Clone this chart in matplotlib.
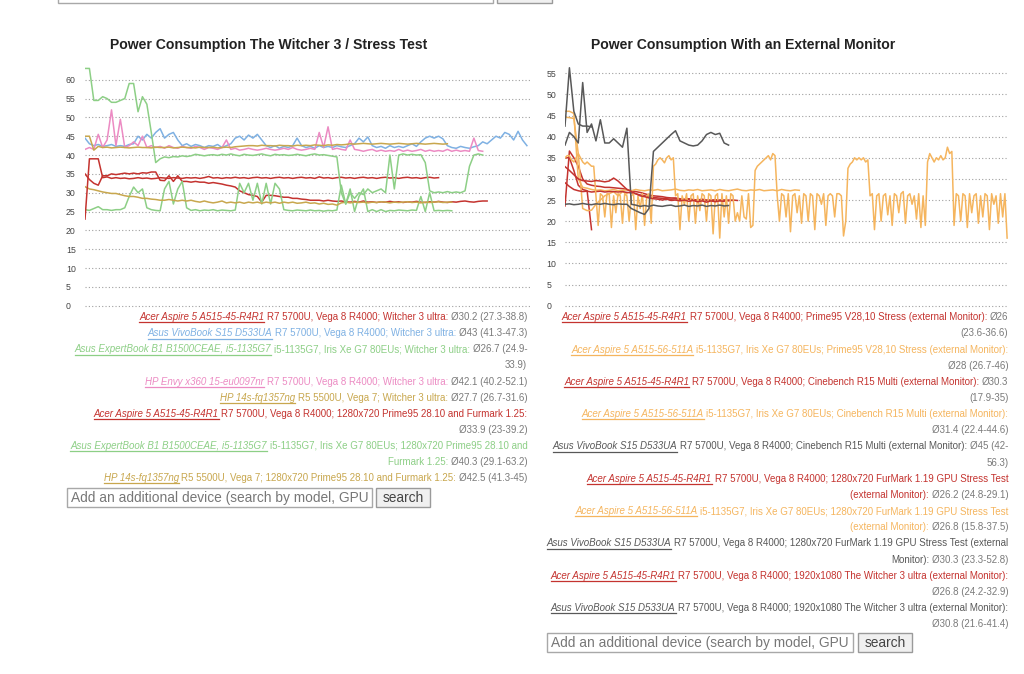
import matplotlib
matplotlib.use('Agg')
import matplotlib.pyplot as plt
from matplotlib.lines import Line2D
from matplotlib.patches import Rectangle

# ---------------- data: left chart (sample index, W) ----------------
left_title = "Power Consumption The Witcher 3 / Stress Test"
right_title = "Power Consumption With an External Monitor"
left_yticks = [0, 5, 10, 15, 20, 25, 30, 35, 40, 45, 50, 55, 60]
right_yticks = [0, 5, 10, 15, 20, 25, 30, 35, 40, 45, 50, 55]

acer_r4r1_witcher = [35, 33.5, 32.5, 32, 34.5, 34.5, 35, 34.8, 35, 35.2, 35, 35.2, 35, 35.3, 35.2, 35.5,
                     35.5, 33.3, 33.2, 34.5, 33, 34.5, 33, 33, 32.8, 33, 32.8, 32.8, 32.5, 32.7, 32.5, 32.3,
                     32, 31.8, 31.5, 30.5, 30, 29.5, 29.3, 29, 27.5, 29.3, 29.3, 29.2, 29, 28.8, 28.8, 28.5,
                     28.5, 28.3, 28.2, 28, 28, 28, 27.8, 28, 27.8, 27.7, 27.8, 27.6, 27.5, 27.7, 27.5, 27.8,
                     27.5, 27.6, 27.4, 27.6, 27.5, 27.7, 27.5, 27.6, 27.4, 27.6, 27.5, 27.7, 27.5, 27.4, 27.6,
                     27.5, 27.7, 27.5, 27.4, 27.6, 27.5, 27.7, 27.8, 27.6, 27.5, 27.7, 27.8, 27.8]
vivobook_witcher = [44.5, 43, 42.5, 42.8, 42.3, 42.5, 42.8, 42.3, 42.5, 42.3, 42.8, 43, 45, 44, 45.5, 44.5,
                    46, 47, 44.5, 45.5, 46, 44, 42.5, 43, 42.3, 42.8, 42.5, 42, 42.5, 42.3, 42.8, 42, 42.5,
                    43, 44.5, 45, 44, 45.3, 44.5, 45.5, 44, 42.5, 42, 42.5, 41.8, 42.3, 42, 42.5, 44.5, 42.5,
                    42, 42.3, 41.8, 42.5, 42, 42.3, 42, 42.5, 42.2, 42, 42.5, 43, 44.5, 43.5, 44.8, 42.5, 42,
                    42.3, 41.8, 42.5, 42, 42.3, 42, 42.5, 43, 42.3, 43.5, 44.5, 45, 44.5, 45, 44.3, 42.5, 42,
                    41.8, 42.3, 42, 41.8, 42.2, 42.5, 43.5, 43, 44, 45, 44.5, 46, 45.5, 44, 46.3, 44, 42.5]
expertbook_witcher = [25.5, 25.3, 25.8, 26.3, 25.5, 25.5, 25.3, 25.5, 25.5, 26, 29, 31.5, 30, 31, 26, 25.5,
                      25.3, 25.2, 31, 33, 27, 31, 33, 26, 25.3, 25.5, 25.2, 25.4, 25.3, 25.5, 25.2, 25.4,
                      25.3, 25.2, 25.4, 32.5, 30, 32.5, 28, 32.5, 27, 32.5, 27, 32.5, 31, 25.5, 25.3, 25.2,
                      25.4, 25.3, 25.2, 25.4, 25.2, 25.3, 25.1, 25.3, 25.2, 25.4, 32, 27, 31, 25, 29, 31, 25,
                      25.5, 25, 25.5, 25, 25.3, 25.2, 25.4, 25.3, 25.2, 25.4, 25.3, 29, 25, 30, 25.2, 25.3,
                      25.2, 25.3, 25.2]
envy_witcher = [41.5, 42, 41.5, 45.5, 42, 44, 52, 42.5, 49.5, 42, 42.5, 43.5, 42.5, 45, 42, 42.5, 42, 42.3,
                41.8, 42.5, 42, 41.8, 42.3, 42, 41.8, 42.3, 42, 41.5, 42, 41.8, 41.5, 42, 44, 41.5, 41.8,
                41.3, 41.5, 41.8, 41.5, 41.3, 41.5, 41.8, 41.5, 41.3, 41.5, 41.8, 41.5, 42, 41.5, 41.3, 41.5,
                41.8, 41.5, 46, 42, 47.5, 41.5, 41.8, 41.5, 41.3, 44, 41.5, 41.3, 41, 41.3, 41.5, 41, 41.3,
                41, 41.2, 41, 41.5, 41, 41.3, 41, 41.2, 41.5, 41, 41.3, 41, 41.2, 41, 41.5, 41, 41.3, 41,
                41.2, 41, 44.5, 41.2, 41]
hp14s_witcher = [31.6, 31, 30.8, 30.5, 30.2, 30, 29.8, 29.8, 29.5, 29.2, 29, 29, 28.8, 28.5, 28.5, 28.3,
                 28.2, 28, 28, 28.2, 28, 27.8, 28, 27.8, 28, 27.7, 27.5, 27.8, 27.5, 27.3, 27.5, 27.8, 27.3,
                 27.5, 27.3, 27.5, 27.2, 27.5, 27.3, 27.5, 27.2, 27.5, 27.3, 27.5, 27.2, 27.5, 27.3, 27.5,
                 27.2, 27.3, 27.5, 27.2, 27.3, 27, 27.2, 26.9, 27, 26.7, 27.3, 27.5, 27.3, 27.5, 27.4, 27.5,
                 27.3, 27.5, 27.4, 27.6, 27.5, 27.3, 27.5, 27.4, 27.5, 27.6, 27.4, 27.5, 27.3, 27.5, 27.4,
                 27.5, 27.6, 27.4, 27.5, 27.5]
acer_r4r1_prime_fur = [23, 39, 39, 39, 34, 34.2, 33.8, 34, 33.8, 33.9, 33.7, 33.8, 34, 33.8, 33.9, 33.7,
                       33.8, 34, 33.9, 33.8, 34, 33.9, 33.8, 34, 33.9, 34, 33.8, 34, 34.3, 33.9, 34, 33.8,
                       34, 33.9, 34.1, 33.9, 34, 33.8, 34, 34.1, 33.9, 34, 33.8, 34, 34.1, 33.9, 34, 33.8,
                       34, 34.1, 33.9, 34, 33.8, 34.2, 33.9, 34, 33.8, 34, 34.1, 33.9, 34, 33.8, 34, 34.1,
                       33.9, 34, 33.8, 34, 34.1, 33.9, 34, 33.8, 34, 34.1, 33.9, 34, 33.8, 34, 34.1, 33.9, 34]
expertbook_prime_fur = [63, 63, 54.5, 54.5, 55.5, 55, 54, 54, 54.5, 55, 59, 59, 51.5, 55.5, 53.5, 46, 38,
                        39, 39.5, 39.3, 39.6, 39.5, 39.8, 39.6, 39.8, 40.2, 40, 39.8, 40, 40.1, 39.9, 40.2,
                        40, 40.3, 40, 39.8, 40.2, 40, 39.9, 40.1, 40.3, 40, 39.8, 40.2, 40, 40.1, 39.9, 40,
                        40.2, 40, 39.8, 40.1, 40.3, 40, 40.1, 39.9, 39.7, 39.5, 30, 27, 30, 28.5, 30, 29.5,
                        31, 30, 30.5, 31, 30, 40, 31, 40, 40.3, 40, 40.2, 40, 40.1, 38, 30.5, 30, 30.2, 30,
                        30.3, 30, 30.2, 30, 30.5, 37, 40, 40.3, 40]
hp14s_prime_fur = [45, 45, 41.3, 42.3, 42, 42.1, 41.9, 42, 42.1, 42, 41.9, 42, 42.1, 42, 42, 41.9, 42.1,
                   42, 42, 42.1, 41.9, 42, 42.1, 42, 42, 41.9, 42.1, 42, 42, 42.1, 41.9, 42, 42.1, 42, 42.2,
                   42.3, 42.4, 42.5, 42.5, 42.4, 42.6, 42.5, 42.5, 42.4, 42.6, 42.5, 42.5, 42.4, 42.6, 42.5,
                   42.6, 42.5, 42.7, 42.6, 42.5, 42.7, 42.6, 42.8, 42.7, 42.8, 43, 42.9, 43, 43.1, 43, 42.9,
                   43, 43.1, 43, 42.9, 43, 43.1, 43, 42.9, 43, 43.1, 43, 42.9, 43, 43.1, 43, 42.9, 43]

# ---------------- data: right chart (sample index, W) ----------------
acer_r4r1_prime_ext = [23.6, 36.6, 35, 33, 30, 28.8, 28.5, 28.3, 28.2, 28, 28, 27.9, 27.8, 27.7, 27.5, 27.2,
                       27, 26.8, 26.5, 26.2, 26, 25.9, 25.8, 25.6, 25.5, 25.5, 25.3, 25.2, 25.3, 25.1, 25,
                       25.2, 25, 24.9, 25.1, 24.9, 25, 24.8, 25, 24.9]
acer_511a_prime_ext = [46, 46, 45.5, 30, 28, 27.8, 27.5, 27.3, 27.4, 27.2, 27.3, 27.5, 27.2, 27.3, 27.4, 27.2,
                       27.5, 27.3, 27.2, 27.4, 27.3, 27.5, 27.2, 27.3, 27.4, 27.6, 27.3, 27.2, 27.4, 27.3,
                       27.5, 27.2, 27.3, 27.4, 27.2, 27.5, 27.3, 27.2, 27.4, 27.6, 27.3, 27.2, 27.4, 27.3,
                       27.5, 27.2, 27.3, 27.4, 27.2, 27.5, 27.3, 27.2, 27.4, 27.3]
acer_r4r1_cine_ext = [35, 35, 32, 28.5, 27.5, 27.2, 18]
acer_511a_cine_ext = [44.6, 44.5, 44.3, 36, 23, 22.5, 22.6, 24, 25, 26, 26.5, 27, 26, 27, 26.5]
vivobook_cine_ext = [42.5, 56.3, 46, 43, 42.5, 42.5, 42.3]
acer_r4r1_fur_ext = [29.1, 28.2, 27.5, 27.2, 27, 27.1, 26.9, 27, 27.1, 26.9, 27, 27, 26.9, 27, 26.8, 26.7,
                     26.5, 26.2, 26, 25.8, 25.6, 25.5, 25.4, 25.3, 25.2, 25.3, 25.1, 25, 25.2, 25, 24.9,
                     25.1, 24.9, 25, 24.8, 25, 24.9, 25, 24.9]
# this run was logged twice as often as the others
acer_511a_fur_ext_step = 0.5
acer_511a_fur_ext = [35, 35.5, 35.5, 34.5, 34, 35, 36, 35, 34, 33.5, 34, 33.5, 33, 33,
                     26, 19, 26.5, 26, 21, 26.5, 26.5, 18.5, 26, 22, 26.5, 26, 19.5, 26.5, 26, 20, 26, 26.5,
                     18, 26, 23, 26.5, 19, 26, 26.5, 19.5,
                     33, 33.5, 34.5, 35, 34.5, 33.8, 35, 35.5, 34.5, 35,
                     26, 26.5, 18, 26, 24, 26.5, 20, 26, 26.5, 19.5, 26, 22.5, 26.5, 26, 20, 26.5, 26, 17,
                     26, 26.5, 16, 26.5, 21, 26, 19.5, 26.5, 26, 20, 22, 20, 26, 21, 20.5, 26.5, 18.5, 19,
                     32, 33, 33.5, 34, 34.5, 35, 35.5, 34.5, 36, 35.5,
                     26, 20, 26.5, 26, 21, 26.5, 17.5, 26, 26.5, 22, 26, 19.5, 26.5, 26, 20, 26.5, 26, 18,
                     26.5, 26, 24, 26.5, 19, 26, 26.5, 26, 21, 26.5, 26.5, 26, 16.5, 20,
                     32.5, 33.5, 34, 35, 34.5, 35, 34.5, 35, 34, 34.5,
                     26, 26.5, 18, 26, 26.5, 20, 26, 26.5, 21.5, 26, 19, 26.5, 26, 22, 26.5, 27, 19.5, 26,
                     26.5, 24, 26, 20.5, 26.5, 18.5, 26, 19,
                     34, 36, 35, 34, 35, 34.5, 35.5, 34.5, 35, 37.5, 36, 36.5,
                     19, 26.5, 26, 20, 26.5, 26, 18.5, 26.5, 22, 26, 26.5, 19.5, 26, 21, 26.5, 26, 18, 26.5,
                     24, 26, 19.5, 26.5, 21, 26.5, 16]
vivobook_fur_ext = [38, 41, 40, 38.5, 52.8, 41, 43, 39, 44, 38.5, 38.5, 39.5, 38.5, 37.5, 42, 24, 23.8,
                    23.5, 23.7, 23.5, 23.8, 23.6, 23.5, 23.7, 23.8, 23.5, 23.6, 23.8, 23.5, 23.7, 23.6,
                    23.8, 23.5, 23.7, 23.6, 23.8, 23.6, 23.7]
acer_r4r1_witcher_ext = [32.9, 32, 31, 30, 29.6, 29.5, 29.4, 29.6, 29.5, 29.3, 29.5, 30.2, 29.5, 28.5, 27.5,
                         27, 26.5, 26, 25.8, 25.5, 25.3, 25.2, 25, 25.2, 24.9, 25, 24.8, 25, 24.7, 24.9,
                         24.6, 24.8, 24.5, 24.8, 24.6, 24.8, 24.7]
vivobook_witcher_ext = [24, 24.1, 23.9, 24, 24.2, 24, 23.9, 24.1, 24, 24.2, 24, 23.9, 24.1, 24, 24, 23,
                        22.5, 22, 21.6, 23, 36.5, 37.5, 38.5, 39.5, 40.5, 41.4, 39, 38.5, 38, 37.8, 38, 39,
                        40.5, 41, 40.5, 40.8, 38.5, 38]

# ---------------- colours ----------------
RED, BLUE, GREEN, PINK, GOLD = '#c4332f', '#7fb1e3', '#8dcf86', '#ec8bc3', '#c8a74e'
ORANGE, GREY = '#f5b55e', '#585858'
STAT = '#7a7a7a'

N_ACER = "Acer Aspire 5 A515-45-R4R1"
N_VIVO = "Asus VivoBook S15 D533UA"
N_EXP = "Asus ExpertBook B1 B1500CEAE, i5-1135G7"
N_ENVY = "HP Envy x360 15-eu0097nr"
N_HP = "HP 14s-fq1357ng"
N_511 = "Acer Aspire 5 A515-56-511A"

left_series = [
    (acer_r4r1_witcher, RED, 1), (vivobook_witcher, BLUE, 1), (expertbook_witcher, GREEN, 1),
    (envy_witcher, PINK, 1), (hp14s_witcher, GOLD, 1), (acer_r4r1_prime_fur, RED, 1),
    (expertbook_prime_fur, GREEN, 1), (hp14s_prime_fur, GOLD, 1)]
right_series = [
    (acer_r4r1_prime_ext, RED, 1), (acer_511a_prime_ext, ORANGE, 1), (acer_r4r1_cine_ext, RED, 1),
    (acer_511a_cine_ext, ORANGE, 1), (vivobook_cine_ext, GREY, 1), (acer_r4r1_fur_ext, RED, 1),
    (acer_511a_fur_ext, ORANGE, acer_511a_fur_ext_step), (vivobook_fur_ext, GREY, 1),
    (acer_r4r1_witcher_ext, RED, 1), (vivobook_witcher_ext, GREY, 1)]

# legend lines: (colour, [(text, kind)]) kind n=name, s=spec, g=stat
left_legend = [
    (RED, [(N_ACER, 'n'), ("R7 5700U, Vega 8 R4000; Witcher 3 ultra:", 's'), ("Ø30.2 (27.3-38.8)", 'g')]),
    (BLUE, [(N_VIVO, 'n'), ("R7 5700U, Vega 8 R4000; Witcher 3 ultra:", 's'), ("Ø43 (41.3-47.3)", 'g')]),
    (GREEN, [(N_EXP, 'n'), ("i5-1135G7, Iris Xe G7 80EUs; Witcher 3 ultra:", 's'), ("Ø26.7 (24.9-", 'g')]),
    (GREEN, [("33.9)", 'g')]),
    (PINK, [(N_ENVY, 'n'), ("R7 5700U, Vega 8 R4000; Witcher 3 ultra:", 's'), ("Ø42.1 (40.2-52.1)", 'g')]),
    (GOLD, [(N_HP, 'n'), ("R5 5500U, Vega 7; Witcher 3 ultra:", 's'), ("Ø27.7 (26.7-31.6)", 'g')]),
    (RED, [(N_ACER, 'n'), ("R7 5700U, Vega 8 R4000; 1280x720 Prime95 28.10 and Furmark 1.25:", 's')]),
    (RED, [("Ø33.9 (23-39.2)", 'g')]),
    (GREEN, [(N_EXP, 'n'), ("i5-1135G7, Iris Xe G7 80EUs; 1280x720 Prime95 28.10 and", 's')]),
    (GREEN, [("Furmark 1.25:", 's'), ("Ø40.3 (29.1-63.2)", 'g')]),
    (GOLD, [(N_HP, 'n'), ("R5 5500U, Vega 7; 1280x720 Prime95 28.10 and Furmark 1.25:", 's'), ("Ø42.5 (41.3-45)", 'g')]),
]
right_legend = [
    (RED, [(N_ACER, 'n'), ("R7 5700U, Vega 8 R4000; Prime95 V28,10 Stress (external Monitor):", 's'), ("Ø26", 'g')]),
    (RED, [("(23.6-36.6)", 'g')]),
    (ORANGE, [(N_511, 'n'), ("i5-1135G7, Iris Xe G7 80EUs; Prime95 V28,10 Stress (external Monitor):", 's')]),
    (ORANGE, [("Ø28 (26.7-46)", 'g')]),
    (RED, [(N_ACER, 'n'), ("R7 5700U, Vega 8 R4000; Cinebench R15 Multi (external Monitor):", 's'), ("Ø30.3", 'g')]),
    (RED, [("(17.9-35)", 'g')]),
    (ORANGE, [(N_511, 'n'), ("i5-1135G7, Iris Xe G7 80EUs; Cinebench R15 Multi (external Monitor):", 's')]),
    (ORANGE, [("Ø31.4 (22.4-44.6)", 'g')]),
    (GREY, [(N_VIVO, 'n'), ("R7 5700U, Vega 8 R4000; Cinebench R15 Multi (external Monitor):", 's'), ("Ø45 (42-", 'g')]),
    (GREY, [("56.3)", 'g')]),
    (RED, [(N_ACER, 'n'), ("R7 5700U, Vega 8 R4000; 1280x720 FurMark 1.19 GPU Stress Test", 's')]),
    (RED, [("(external Monitor):", 's'), ("Ø26.2 (24.8-29.1)", 'g')]),
    (ORANGE, [(N_511, 'n'), ("i5-1135G7, Iris Xe G7 80EUs; 1280x720 FurMark 1.19 GPU Stress Test", 's')]),
    (ORANGE, [("(external Monitor):", 's'), ("Ø26.8 (15.8-37.5)", 'g')]),
    (GREY, [(N_VIVO, 'n'), ("R7 5700U, Vega 8 R4000; 1280x720 FurMark 1.19 GPU Stress Test (external", 's')]),
    (GREY, [("Monitor):", 's'), ("Ø30.3 (23.3-52.8)", 'g')]),
    (RED, [(N_ACER, 'n'), ("R7 5700U, Vega 8 R4000; 1920x1080 The Witcher 3 ultra (external Monitor):", 's')]),
    (RED, [("Ø26.8 (24.2-32.9)", 'g')]),
    (GREY, [(N_VIVO, 'n'), ("R7 5700U, Vega 8 R4000; 1920x1080 The Witcher 3 ultra (external Monitor):", 's')]),
    (GREY, [("Ø30.8 (21.6-41.4)", 'g')]),
]
search_placeholder = "Add an additional device (search by model, GPU"
search_button = "search"

# ---------------- figure ----------------
W, H = 1024, 674
plt.rcParams['font.family'] = ['Liberation Sans', 'DejaVu Sans']
fig = plt.figure(figsize=(W / 100, H / 100), dpi=100)
fig.patch.set_facecolor('white')


def fx(px):
    return px / W


def fy(py):
    return 1 - py / H


axL = fig.add_axes([fx(85), fy(305.7), (530 - 85) / W, (305.7 - 60.9) / H])
axR = fig.add_axes([fx(565), fy(305.7), (1008 - 565) / W, (305.7 - 64.8) / H])


def style(ax, ymax, ticks, xmax, pad):
    ax.set_xlim(0, xmax)
    ax.set_ylim(0, ymax)
    for s in ax.spines.values():
        s.set_visible(False)
    ax.set_xticks([])
    ax.set_yticks(ticks)
    ax.tick_params(axis='y', length=0, pad=pad, labelsize=6.3, labelcolor='#444444')
    plt.setp(ax.get_yticklabels(), ha='left')
    ax.grid(axis='y', color='#a0a0a0', linestyle=(0, (1, 2)), linewidth=0.8)
    ax.set_axisbelow(True)
    for gl in ax.get_ygridlines():
        gl.set_clip_on(False)
    ax.patch.set_alpha(0)


for vals, col, step in left_series:
    axL.plot([k * step for k in range(len(vals))], vals, color=col, lw=1.1, solid_joinstyle='round')
for vals, col, step in right_series:
    axR.plot([k * step for k in range(len(vals))], vals, color=col, lw=1.1, solid_joinstyle='round')

style(axL, 65, left_yticks, 100.7, 19 * 0.72)
style(axR, 57, right_yticks, 100.2, 18.3 * 0.72)

fig.canvas.draw()
R = fig.canvas.get_renderer()


def width(s, fs, **kw):
    t = fig.text(0, 0, s, fontsize=fs, **kw)
    w = t.get_window_extent(R).width
    t.remove()
    return w


# calibrate font sizes on known widths
FS = 10 * 390 / width(N_ACER + " R7 5700U, Vega 8 R4000; Witcher 3 ultra: Ø30.2 (27.3-38.8)", 10)
TFS = 10 * 318 / width(left_title, 10, fontweight='bold')
IFS = 10 * 298 / width(search_placeholder, 10)
SP = width("a a", FS) - width("aa", FS)

fig.text(fx(269), fy(45), left_title, fontsize=TFS, fontweight='bold', ha='center', va='center', color='#222222')
fig.text(fx(743.5), fy(45), right_title, fontsize=TFS, fontweight='bold', ha='center', va='center', color='#222222')


def draw_legend(lines, xr, y0, dy):
    for k, (col, segs) in enumerate(lines):
        yb = y0 + k * dy
        x = xr
        for txt, kind in reversed(segs):
            c = STAT if kind == 'g' else col
            st = 'italic' if kind == 'n' else 'normal'
            t = fig.text(fx(x), fy(yb), txt, fontsize=FS, color=c, style=st, ha='right', va='baseline')
            bb = t.get_window_extent(R)
            if kind == 'n':
                fig.add_artist(Line2D([fx(bb.x0), fx(bb.x1)], [fy(yb + 2.2)] * 2, color=c, lw=0.9))
            x = bb.x0 - SP


draw_legend(left_legend, 527.3, 320.2, 16.1)
draw_legend(right_legend, 1008.3, 320.2, 16.16)


def search_box(x0, y0, x1, y1, bx0, bx1):
    fig.add_artist(Rectangle((fx(x0), fy(y1)), (x1 - x0) / W, (y1 - y0) / H, transform=fig.transFigure,
                             facecolor='white', edgecolor='#a8a8a8', lw=1.0))
    fig.text(fx(x0 + 4), fy((y0 + y1) / 2 + 0.5), search_placeholder, fontsize=IFS, color='#777777',
             ha='left', va='center')
    fig.add_artist(Rectangle((fx(bx0), fy(y1)), (bx1 - bx0) / W, (y1 - y0) / H, transform=fig.transFigure,
                             facecolor='#f0f0f0', edgecolor='#9a9a9a', lw=1.0))
    fig.text(fx((bx0 + bx1) / 2), fy((y0 + y1) / 2 + 0.5), search_button, fontsize=IFS, color='#444444',
             ha='center', va='center')


search_box(66.7, 488, 371.7, 506.7, 376, 430)
search_box(546.7, 633, 853, 652.3, 858, 911.7)

# partially visible input row at the top of the page
fig.add_artist(Rectangle((fx(58), fy(3)), (493 - 58) / W, 10 / H, transform=fig.transFigure,
                         facecolor='white', edgecolor='#a8a8a8', lw=1.0))
fig.add_artist(Rectangle((fx(497), fy(3)), (552 - 497) / W, 10 / H, transform=fig.transFigure,
                         facecolor='#f0f0f0', edgecolor='#9a9a9a', lw=1.0))

fig.savefig('out.png', dpi=100, facecolor='white')
